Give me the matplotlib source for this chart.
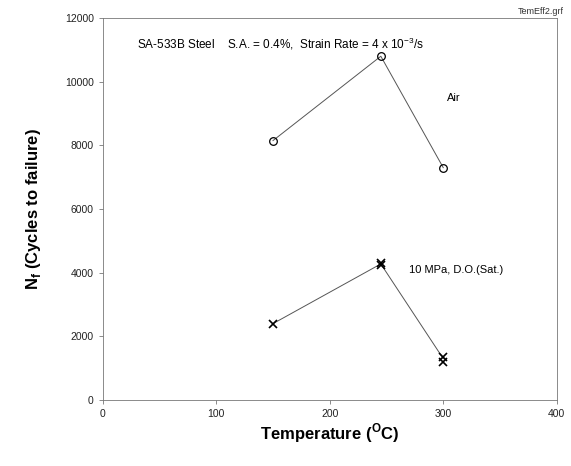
import numpy as np
from matplotlib import pyplot as plt

plt.rcParams['font.family'] = ['Liberation Sans', 'DejaVu Sans']
plt.rcParams['mathtext.fontset'] = 'custom'
plt.rcParams['mathtext.rm'] = 'Liberation Sans'
plt.rcParams['mathtext.bf'] = 'Liberation Sans:bold'

# Air data
air_T = [150, 245, 300]
air_N = [8150, 10800, 7300]

# 10 MPa, D.O.(Sat.) data
wat_T = [150, 245, 245, 300, 300]
wat_N = [2400, 4250, 4300, 1350, 1200]
# trend line through the means
wat_line_T = [150, 245, 300]
wat_line_N = [2400, 4275, 1300]

fig = plt.figure(figsize=(5.71, 4.66), dpi=100)
ax = fig.add_axes([0.180, 0.1416, 0.795, 0.8197])

ax.plot(air_T, air_N, color='#555555', lw=0.7)
ax.plot(air_T, air_N, 'o', mfc='none', mec='black', ms=5.5, mew=0.9)
ax.plot(wat_line_T, wat_line_N, color='#555555', lw=0.7)
ax.plot(wat_T, wat_N, 'x', color='black', ms=6, mew=1.2)

ax.set_xlim(0, 400)
ax.set_ylim(0, 12000)
ax.set_xticks(np.arange(0, 401, 100))
ax.set_yticks(np.arange(0, 12001, 2000))
ax.tick_params(labelsize=7.5, length=3, width=0.6, color='#777777', labelcolor='#222222')
for s in ax.spines.values():
    s.set_linewidth(0.6)
    s.set_color('#777777')

ax.set_xlabel(r'Temperature ($^{\mathbf{O}}$C)', fontsize=12, fontweight='bold', labelpad=2)
ax.set_ylabel(r'N$_\mathbf{f}$ (Cycles to failure)', fontsize=12, fontweight='bold', labelpad=16)

ax.text(30, 11200, r'SA-533B Steel    S.A. = 0.4%,  Strain Rate = 4 x 10$^{-3}$/s',
        fontsize=8.5, va='center')
ax.text(303, 9480, 'Air', fontsize=8, va='center')
ax.text(270, 4100, '10 MPa, D.O.(Sat.)', fontsize=8, va='center')
fig.text(0.987, 0.985, 'TemEff2.grf', fontsize=6.5, ha='right', va='top', color='#333333')

plt.savefig('out.png', dpi=100)
